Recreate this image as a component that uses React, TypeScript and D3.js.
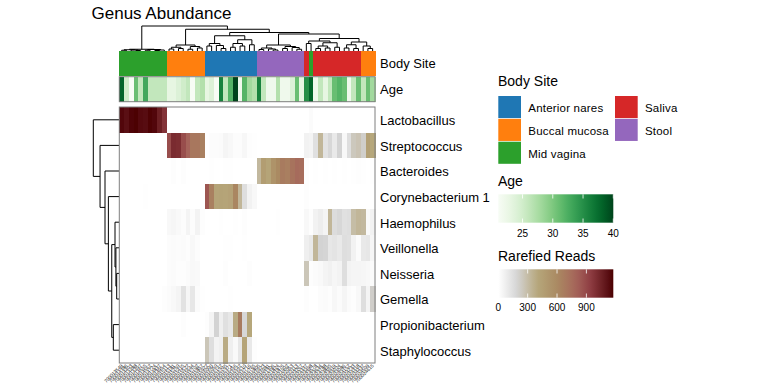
import React from "react";
import * as d3 from "d3";

// ---------- data ----------
const genera = [
  "Lactobacillus", "Streptococcus", "Bacteroides", "Corynebacterium 1", "Haemophilus",
  "Veillonella", "Neisseria", "Gemella", "Propionibacterium", "Staphylococcus",
];
const bodySites = ["Anterior nares", "Buccal mucosa", "Mid vagina", "Saliva", "Stool"];
const siteColors = ["#1f77b4", "#ff7f0e", "#2ca02c", "#d62728", "#9467bd"];

const MV = "Mid vagina", BM = "Buccal mucosa", AN = "Anterior nares", ST = "Stool", SA = "Saliva";
const sampleSite = [
  MV, MV, MV, MV, MV, MV, MV, MV, MV, MV,
  BM, BM, BM, BM, BM, BM, BM, BM,
  AN, AN, AN, AN, AN, AN, AN, AN, AN, AN, AN,
  ST, ST, ST, ST, ST, ST, ST, ST, ST, ST,
  SA, MV,
  SA, SA, SA, SA, SA, SA, SA, SA, SA, SA,
  BM, BM, BM,
];
const sampleAge = [
  38, 25, 21, 31, 26, 33, 26, 26, 26, 26,
  23, 23, 24, 25, 26, 21, 26, 27,
  23, 24, 21, 36, 26, 32, 40, 22, 32, 28, 27,
  36, 26, 22, 22, 27, 22, 22, 24, 31, 23,
  35, 38,
  22, 26, 23, 26, 31, 32, 31, 22, 26, 31,
  26, 31, 28,
];
const sampleIds = [
  "700013549", "700014386", "700014403", "700014488", "700014497", "700014555", "700014562", "700014724", "700014837", "700014954",
  "700015113", "700015181", "700015250", "700015415", "700015522", "700015644", "700015702", "700015857",
  "700015922", "700016000", "700016050", "700016142", "700016245", "700016371", "700016456", "700016542", "700016610", "700016716", "700016765",
  "700016805", "700016923", "700016981", "700021306", "700021824", "700021876", "700021902", "700022053", "700023113", "700023267",
  "700023337", "700023498",
  "700023578", "700023634", "700023788", "700023845", "700023919", "700024024", "700024086", "700024152", "700024233", "700024318",
  "700024437", "700024509", "700024615",
];

// rarefied reads per genus, one value per sample (column order above)
const lactobacillus = [1150, 1120, 1160, 1170, 1140, 1130, 1165, 1150, 1060, 980, 0, 0, 0, 0, 0, 0, 0, 0, 0, 0, 0, 0, 0, 0, 0, 0, 0, 0, 0, 0, 0, 0, 0, 0, 0, 0, 0, 0, 0, 0, 20, 0, 0, 0, 0, 0, 0, 0, 0, 0, 0, 0, 0, 0];
const streptococcus = [0, 0, 0, 0, 0, 0, 0, 0, 0, 5, 880, 1010, 1000, 880, 800, 700, 700, 650, 5, 12, 15, 18, 45, 30, 15, 12, 35, 8, 3, 0, 0, 0, 0, 0, 0, 0, 0, 0, 0, 60, 50, 140, 330, 130, 180, 100, 200, 30, 150, 250, 270, 220, 450, 400];
const bacteroides = [0, 0, 0, 0, 0, 0, 0, 0, 0, 0, 0, 8, 0, 8, 0, 0, 0, 0, 0, 5, 0, 0, 6, 4, 0, 0, 0, 0, 0, 320, 470, 420, 540, 600, 680, 660, 720, 760, 750, 8, 0, 5, 0, 5, 0, 3, 0, 6, 0, 4, 8, 3, 0, 5];
const corynebacterium = [0, 0, 0, 0, 0, 6, 0, 0, 0, 0, 0, 0, 0, 0, 0, 0, 0, 0, 850, 650, 420, 430, 420, 440, 620, 330, 150, 60, 30, 0, 0, 0, 0, 0, 0, 0, 0, 0, 0, 10, 0, 0, 0, 0, 0, 0, 0, 0, 0, 0, 0, 0, 0, 0];
const haemophilus = [0, 0, 0, 0, 0, 0, 0, 0, 0, 0, 30, 40, 25, 15, 50, 15, 55, 10, 0, 0, 0, 4, 0, 0, 5, 0, 8, 0, 0, 0, 0, 0, 0, 5, 0, 0, 0, 0, 0, 30, 8, 60, 80, 50, 330, 160, 180, 140, 150, 300, 330, 320, 25, 60];
const veillonella = [0, 0, 0, 0, 0, 0, 0, 0, 0, 0, 15, 20, 12, 20, 8, 30, 15, 0, 0, 0, 0, 0, 5, 5, 0, 0, 5, 0, 0, 0, 0, 0, 0, 0, 0, 0, 0, 0, 0, 70, 100, 330, 200, 190, 110, 120, 100, 150, 140, 60, 20, 100, 110, 40];
const neisseria = [0, 0, 0, 0, 0, 0, 0, 0, 0, 0, 12, 18, 8, 8, 20, 30, 25, 0, 0, 0, 0, 0, 8, 0, 0, 0, 0, 10, 0, 0, 0, 0, 0, 0, 0, 0, 0, 0, 0, 260, 10, 20, 25, 50, 65, 40, 55, 150, 55, 45, 45, 40, 30, 20];
const gemella = [0, 0, 0, 0, 0, 0, 0, 0, 0, 8, 20, 30, 50, 130, 40, 110, 20, 5, 0, 0, 0, 0, 0, 5, 0, 0, 0, 0, 0, 0, 0, 0, 0, 0, 0, 0, 0, 0, 0, 8, 0, 0, 12, 20, 10, 35, 20, 45, 20, 10, 30, 150, 50, 220];
const propionibacterium = [0, 0, 0, 0, 0, 0, 0, 0, 0, 0, 0, 0, 0, 8, 0, 0, 0, 0, 10, 50, 200, 70, 140, 110, 380, 680, 180, 400, 0, 0, 0, 0, 0, 0, 0, 0, 0, 0, 0, 0, 0, 0, 0, 0, 0, 0, 0, 0, 0, 0, 0, 0, 0, 0];
const staphylococcus = [0, 0, 0, 0, 0, 0, 0, 0, 0, 0, 0, 0, 0, 0, 0, 0, 0, 0, 260, 150, 55, 70, 380, 70, 25, 110, 420, 100, 10, 0, 0, 0, 0, 0, 0, 0, 0, 0, 0, 0, 0, 0, 0, 0, 0, 0, 0, 0, 0, 0, 0, 0, 0, 0];
const readsMatrix = [lactobacillus, streptococcus, bacteroides, corynebacterium, haemophilus, veillonella, neisseria, gemella, propionibacterium, staphylococcus];

// dendrograms: [height, left, right]; leaves are indices
type TreeNode = number | [number, TreeNode, TreeNode];
const colTree: TreeNode = [1.0,
  [0.07, [0.05, [0.03, 0, 1], [0.04, 2, [0.02, 3, 4]]], [0.06, [0.03, 5, 6], [0.04, [0.02, 7, 8], 9]]],
  [0.87,
    [0.24, [0.15, [0.08, 10, 11], [0.1, 12, 13]], [0.18, [0.07, 14, 15], [0.12, 16, 17]]],
    [0.74,
      [0.61, [0.3, [0.2, 18, 19], [0.22, 20, [0.1, 21, 22]]], [0.45, [0.3, [0.15, 23, 24], [0.2, 25, 26]], [0.25, 27, 28]]],
      [0.68,
        [0.24, [0.12, [0.06, 29, 30], [0.08, 31, [0.04, 32, 33]]], [0.18, [0.1, 34, 35], [0.14, 36, [0.07, 37, 38]]]],
        [0.5,
          [0.4, [0.3, 39, 40], [0.33, [0.2, [0.1, 41, 42], [0.12, 43, 44]], [0.15, 45, 46]]],
          [0.36, [0.25, [0.12, 47, 48], [0.1, 49, 50]], [0.2, 51, [0.1, 52, 53]]]],
      ],
    ],
  ],
];
const rowTree: TreeNode = [1.0, 0, [0.74, 1, [0.55, 2, [0.42, 3, [0.29, [0.165, 4, [0.13, 5, [0.1, 6, 7]]], [0.23, 8, 9]]]]]];

const ageTicks = [25, 30, 35, 40];
const readsTicks = [0, 300, 600, 900];
const ageRange = [21, 40];
const readsMax = 1175;

// ---------- layout ----------
const FONT = "Liberation Sans, Arial, sans-serif";
const HX0 = 119.3, HX1 = 375, HY0 = 107, HY1 = 363;

type Seg = { p1: number; h1: number; p2: number; h2: number; h: number };
function layoutTree(node: TreeNode, leafPos: (i: number) => number, segs: Seg[]): { p: number; h: number } {
  if (typeof node === "number") return { p: leafPos(node), h: 0 };
  const [h, a, b] = node;
  const la = layoutTree(a, leafPos, segs);
  const lb = layoutTree(b, leafPos, segs);
  segs.push({ p1: la.p, h1: la.h, p2: lb.p, h2: lb.h, h });
  return { p: (la.p + lb.p) / 2, h };
}

export default function App() {
  const nCols = sampleAge.length;
  const x = d3.scaleBand<number>().domain(d3.range(nCols)).range([HX0, HX1]);
  const y = d3.scaleBand<string>().domain(genera).range([HY0, HY1]);
  const bw = x.bandwidth();
  const bh = y.bandwidth();

  const readsColor = d3
    .scaleLinear<string>()
    .domain([0, 200, 400, 600, 800, 950, readsMax])
    .range(["#ffffff", "#d3d3d3", "#b6a77b", "#aa8a62", "#a5635a", "#8c3a40", "#4b0000"])
    .interpolate(d3.interpolateLab)
    .clamp(true);
  const ageColor = d3.scaleSequential(d3.interpolateGreens).domain(ageRange as [number, number]);
  const siteColor = d3.scaleOrdinal<string, string>().domain(bodySites).range(siteColors);

  const colDendY = d3.scaleLinear().domain([0, 1]).range([51, 26]);
  const rowDendX = d3.scaleLinear().domain([0, 1]).range([HX0, 93.3]);
  const colSegs: Seg[] = [];
  layoutTree(colTree, (i) => (x(i) as number) + bw / 2, colSegs);
  const rowSegs: Seg[] = [];
  layoutTree(rowTree, (i) => (y(genera[i]) as number) + bh / 2, rowSegs);

  const LX0 = 498.3, LX1 = 613.3;
  const ageLeg = d3.scaleLinear().domain(ageRange).range([LX0, LX1]);
  const readsLeg = d3.scaleLinear().domain([0, readsMax]).range([LX0, LX1]);
  const gradStops = d3.range(0, 1.0001, 0.05);

  const sq = 22.7;
  const legendItems = [
    { label: bodySites[0], col: 0, row: 0 },
    { label: bodySites[1], col: 0, row: 1 },
    { label: bodySites[2], col: 0, row: 2 },
    { label: bodySites[3], col: 1, row: 0 },
    { label: bodySites[4], col: 1, row: 1 },
  ];

  return (
    <svg width={768} height={384} style={{ position: "absolute", left: 0, top: 0 }} fontFamily={FONT}>
      <defs>
        <linearGradient id="ageGrad" x1="0" x2="1" y1="0" y2="0">
          {gradStops.map((t) => (
            <stop key={t} offset={t} stopColor={ageColor(ageRange[0] + t * (ageRange[1] - ageRange[0]))} />
          ))}
        </linearGradient>
        <linearGradient id="readsGrad" x1="0" x2="1" y1="0" y2="0">
          {gradStops.map((t) => (
            <stop key={t} offset={t} stopColor={readsColor(t * readsMax)} />
          ))}
        </linearGradient>
      </defs>
      <rect width={768} height={384} fill="#ffffff" />

      <text x={91.5} y={19.3} fontSize={17} fill="#000">Genus Abundance</text>

      {/* column dendrogram */}
      <g stroke="#000" strokeWidth={1} fill="none">
        {colSegs.map((s, i) => (
          <path key={i} d={`M${s.p1},${colDendY(s.h1)}V${colDendY(s.h)}H${s.p2}V${colDendY(s.h2)}`} />
        ))}
      </g>
      {/* row dendrogram */}
      <g stroke="#000" strokeWidth={1} fill="none">
        {rowSegs.map((s, i) => (
          <path key={i} d={`M${rowDendX(s.h1)},${s.p1}H${rowDendX(s.h)}V${s.p2}H${rowDendX(s.h2)}`} />
        ))}
      </g>

      {/* annotations */}
      <g shapeRendering="crispEdges">
        {sampleSite.map((s, i) => (
          <rect key={"s" + i} x={x(i)} y={51} width={bw + 0.5} height={25} fill={siteColor(s)} />
        ))}
        {sampleAge.map((a, i) => (
          <rect key={"a" + i} x={x(i)} y={76.7} width={bw + 0.5} height={25} fill={ageColor(a)} />
        ))}
      </g>
      <rect x={HX0} y={76.7} width={HX1 - HX0} height={25} fill="none" stroke="#7f7f7f" strokeWidth={1} />
      <text x={380} y={65} fontSize={13} dominantBaseline="middle">Body Site</text>
      <text x={380} y={90.5} fontSize={13} dominantBaseline="middle">Age</text>

      {/* heatmap */}
      <g shapeRendering="crispEdges">
        {readsMatrix.map((row, r) =>
          row.map((v, c) => (
            <rect key={r + "-" + c} x={x(c)} y={y(genera[r])} width={bw + 0.5} height={bh + 0.5} fill={readsColor(v)} />
          ))
        )}
      </g>
      <rect x={HX0} y={HY0} width={HX1 - HX0} height={HY1 - HY0} fill="none" stroke="#7f7f7f" strokeWidth={1} />
      {genera.map((g) => (
        <text key={g} x={380} y={(y(g) as number) + bh / 2 + 2} fontSize={13} dominantBaseline="middle">{g}</text>
      ))}
      {sampleIds.map((id, i) => (
        <text
          key={id}
          transform={`translate(${(x(i) as number) + bw / 2 + 1.5},${HY1 + 3}) rotate(-45)`}
          textAnchor="end"
          fontSize={4.8}
          fill="#111"
        >{id}</text>
      ))}

      {/* legends */}
      <text x={498} y={85.5} fontSize={14}>Body Site</text>
      {legendItems.map((it) => {
        const lx = it.col === 0 ? 498.3 : 615;
        const ly = 96 + it.row * 22.85;
        return (
          <g key={it.label}>
            <rect x={lx} y={ly} width={sq} height={sq - 0.6} fill={siteColor(it.label)} />
            <text x={lx + 30} y={ly + sq / 2 + 1.5} fontSize={11.5} dominantBaseline="middle" letterSpacing={0.2}>{it.label}</text>
          </g>
        );
      })}

      <text x={498} y={185.8} fontSize={14}>Age</text>
      <rect x={LX0} y={194.3} width={LX1 - LX0} height={28.4} fill="url(#ageGrad)" />
      {ageTicks.map((t) => (
        <g key={t}>
          <line x1={ageLeg(t)} x2={ageLeg(t)} y1={194.3} y2={198.5} stroke="#fff" strokeOpacity={0.8} />
          <line x1={ageLeg(t)} x2={ageLeg(t)} y1={218.5} y2={222.7} stroke="#fff" strokeOpacity={0.8} />
          <text x={ageLeg(t)} y={237} fontSize={10} textAnchor="middle">{t}</text>
        </g>
      ))}

      <text x={498} y={260.5} fontSize={14}>Rarefied Reads</text>
      <rect x={LX0} y={269.3} width={LX1 - LX0} height={28.4} fill="url(#readsGrad)" />
      {readsTicks.map((t) => (
        <g key={t}>
          <line x1={readsLeg(t)} x2={readsLeg(t)} y1={269.3} y2={273.5} stroke="#fff" strokeOpacity={0.8} />
          <line x1={readsLeg(t)} x2={readsLeg(t)} y1={293.5} y2={297.7} stroke="#fff" strokeOpacity={0.8} />
          <text x={readsLeg(t)} y={311} fontSize={10} textAnchor="middle">{t}</text>
        </g>
      ))}
    </svg>
  );
}
